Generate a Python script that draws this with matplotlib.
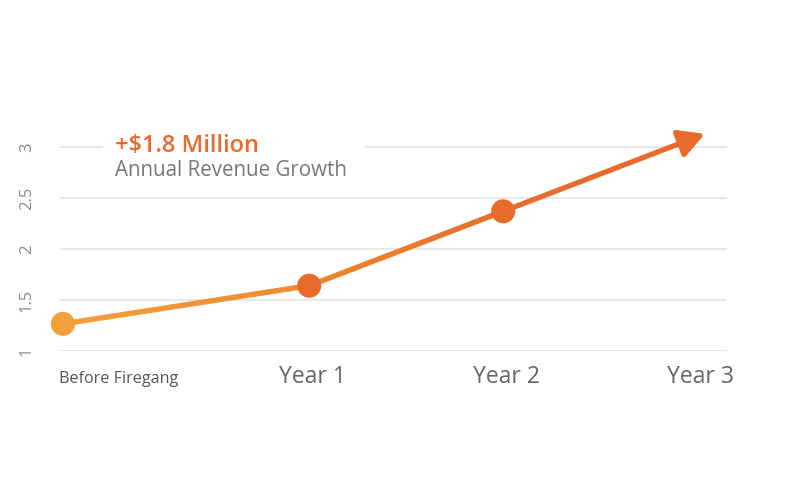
import numpy as np
import matplotlib.pyplot as plt
from matplotlib.collections import LineCollection
from matplotlib.colors import LinearSegmentedColormap
from matplotlib.patches import Rectangle

plt.rcParams['font.family'] = ['Open Sans', 'DejaVu Sans']

# data
periods = ['Before Firegang', 'Year 1', 'Year 2', 'Year 3']
x_pos = [-0.27, 1, 2, 3]
revenue = [1.265, 1.64, 2.37, 3.1]
y_ticks = [1, 1.5, 2, 2.5, 3]
y_tick_labels = ['1', '1.5', '2', '2.5', '3']

light = '#F2A13A'
dark = '#E96B2B'

fig = plt.figure(figsize=(8, 4.8), dpi=100)
ax = fig.add_axes([0.075, 0.269, 0.834, 0.467])
ax.set_xlim(-0.285, 3.155)
ax.set_ylim(1, 3.2)

for s in ax.spines.values():
    s.set_visible(False)
ax.set_yticks(y_ticks)
ax.set_yticklabels(y_tick_labels, rotation=90, va='center', color='#8a8a8a', fontsize=12)
ax.tick_params(axis='y', length=0, pad=18)
ax.grid(axis='y', color='#e8e8e8', lw=1.5)
ax.set_axisbelow(True)

# gradient line for the first two segments
cmap = LinearSegmentedColormap.from_list('fire', [light, '#EE8A30', dark])
xs, ys = [], []
for i in range(2):
    t = np.linspace(0, 1, 60)
    xs.extend(x_pos[i] + (x_pos[i + 1] - x_pos[i]) * t)
    ys.extend(revenue[i] + (revenue[i + 1] - revenue[i]) * t)
pts = np.array([xs, ys]).T.reshape(-1, 1, 2)
segs = np.concatenate([pts[:-1], pts[1:]], axis=1)
lc = LineCollection(segs, cmap=cmap, linewidth=3.8, capstyle='round', zorder=2)
lc.set_array(np.linspace(0, 0.85, len(segs)))
ax.add_collection(lc)

# last segment with arrow head
ax.annotate('', xy=(x_pos[3] + 0.04, revenue[3] + 0.03), xytext=(x_pos[2], revenue[2]),
            arrowprops=dict(arrowstyle='-|>,head_length=1.1,head_width=0.6', color=dark,
                            lw=3.8, shrinkA=0, shrinkB=0, mutation_scale=14),
            zorder=2)

ax.scatter(x_pos[:3], revenue[:3], s=300, c=[light, dark, dark], zorder=3, lw=0,
           clip_on=False)

# x labels
ax.set_xticks([])
ax.text(x_pos[0] - 0.02, -0.125, periods[0], ha='left', va='center', fontsize=11.6,
        color='#555555', transform=ax.get_xaxis_transform(), clip_on=False)
for xp, lab in zip(x_pos[1:], periods[1:]):
    ax.text(xp + 0.015, -0.115, lab, ha='center', va='center', fontsize=16.5,
            color='#666666', transform=ax.get_xaxis_transform(), clip_on=False)

# callout, with a white patch that breaks the top gridline behind it
ax.add_patch(Rectangle((-0.065, 2.95), 1.35, 0.1, facecolor='white', edgecolor='none',
                       zorder=1.5))
ax.text(0.0, 2.95, '+$1.8 Million', fontsize=17, color=dark, fontweight='semibold',
        va='baseline', zorder=5)
ax.text(0.0, 2.715, 'Annual Revenue Growth', fontsize=14.8, color='#777777', va='baseline',
        zorder=5)

fig.savefig('out.png', dpi=100, facecolor='white')
